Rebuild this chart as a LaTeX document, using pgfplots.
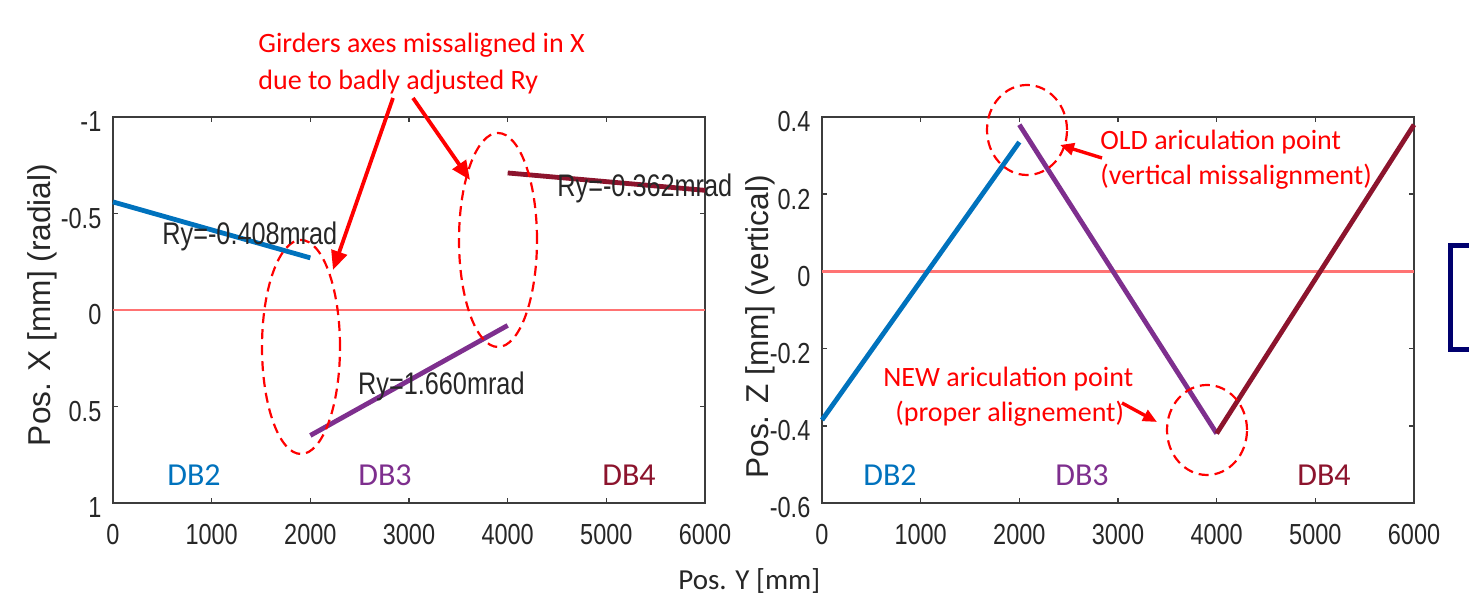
\documentclass[border=0pt]{standalone}
\usepackage{fontspec}
\setmainfont{Liberation Sans}[FakeStretch=0.81]
\newfontfamily\calfont{Carlito}
\newfontfamily\arialfont{Liberation Sans}
\usepackage{pgfplots}
\pgfplotsset{compat=1.18}
\usetikzlibrary{arrows.meta}

\definecolor{dbblue}{RGB}{0,114,189}
\definecolor{dbpurple}{RGB}{126,47,142}
\definecolor{dbred}{RGB}{140,20,45}
\definecolor{axgray}{RGB}{60,60,60}
\definecolor{navybox}{RGB}{0,0,110}

\pgfplotsset{
  girder/.style={
    scale only axis,
    width=296pt, height=193pt,
    anchor=south west,
    xmin=0, xmax=6000,
    xtick={0,1000,2000,3000,4000,5000,6000},
    xticklabels={0,1000,2000,3000,4000,5000,6000},
    scaled ticks=false,
    tick align=inside,
    major tick length=2.5pt,
    axis line style={axgray, line width=1pt},
    every tick/.style={axgray, line width=0.8pt},
    tick label style={font=\fontsize{14.5}{16}\selectfont, text=black!85},
    xticklabel style={yshift=-7pt},
    yticklabel style={xshift=-2.3pt, yshift=-2.5pt},
    ylabel style={font=\arialfont\fontsize{15.8}{18}\selectfont, text=black!85, anchor=base},
    clip=false,
  },
  seg/.style={line width=2.4pt},
}

\begin{document}
\begin{tikzpicture}
\path[use as bounding box, clip] (0,0) rectangle (734.5pt,301.5pt);

% left: radial position
\begin{axis}[girder,
  at={(56.5pt,50pt)},
  ymin=-1, ymax=1, y dir=reverse,
  ytick={-1,-0.5,0,0.5,1},
  yticklabels={-1,-0.5,0,0.5,1},
  ylabel={Pos. X [mm] (radial)},
  ylabel style={at={(axis description cs:-0.106,0.513)}},
]
\addplot[red!55, line width=1.3pt] coordinates {(0,0) (6000,0)};
\addplot[dbblue, seg] coordinates {(0,-0.56) (2000,-0.27)};
\addplot[dbpurple, seg] coordinates {(2000,0.65) (4000,0.08)};
\addplot[dbred, seg] coordinates {(4000,-0.71) (6000,-0.62)};
\end{axis}

% right: vertical position
\begin{axis}[girder,
  at={(411pt,50pt)},
  ymin=-0.6, ymax=0.4,
  ytick={-0.6,-0.4,-0.2,0,0.2,0.4},
  yticklabels={-0.6,-0.4,-0.2,0,0.2,0.4},
  ylabel={Pos. Z [mm] (vertical)},
  ylabel style={at={(axis description cs:-0.091,0.456)}},
]
\addplot[red!55, line width=1.3pt] coordinates {(0,0) (6000,0)};
\addplot[dbblue, seg] coordinates {(0,-0.385) (2000,0.335)};
\addplot[dbpurple, seg] coordinates {(2000,0.38) (4000,-0.42)};
\addplot[dbred, seg] coordinates {(4000,-0.42) (6000,0.38)};
\end{axis}

% annotations, in pixel units of the reference
\begin{scope}[x=0.5pt, y=-0.5pt, yshift=301.5pt]
  \tikzset{note/.style={text=red, inner sep=0, font=\calfont\fontsize{14}{16}\selectfont},
           ry/.style={text=black!85, inner sep=0, font=\fontsize{15.6}{17}\selectfont},
           db/.style={inner sep=0, anchor=base west, font=\calfont\fontsize{16}{18}\selectfont},
           ring/.style={red, line width=1.1pt, dash pattern=on 5pt off 3pt},
           pointer/.style={red, line width=1.9pt, -{Triangle[length=9.5pt,width=8pt]}}}

  \node[note, anchor=base west] at (258,53) {Girders axes missaligned in X};
  \node[note, anchor=base west] at (258,90) {due to badly adjusted Ry};
  \draw[pointer] (393,98) -- (333,270);
  \draw[pointer] (413,98) -- (470,180);
  \draw[ring] (301,347) ellipse [x radius=19.5pt, y radius=53.5pt];
  \draw[ring] (498,240) ellipse [x radius=19.5pt, y radius=53.5pt];

  \node[ry, anchor=base west] at (162,245) {Ry=-0.408mrad};
  \node[ry, anchor=base west] at (557,197) {Ry=-0.362mrad};
  \node[ry, anchor=base east] at (525,395) {Ry=1.660mrad};

  \node[db, text=dbblue] at (167,486) {DB2};
  \node[db, text=dbpurple] at (358,486) {DB3};
  \node[db, text=dbred] at (602,486) {DB4};
  \node[db, text=dbblue] at (863,486) {DB2};
  \node[db, text=dbpurple] at (1055,486) {DB3};
  \node[db, text=dbred] at (1297,486) {DB4};

  \draw[ring] (1027,130) ellipse [x radius=20pt, y radius=22.5pt];
  \draw[ring] (1207,430) ellipse [x radius=20pt, y radius=22.5pt];
  \node[note, anchor=base west] at (1100,150) {OLD ariculation point};
  \node[note, anchor=base west] at (1100,185) {(vertical missalignment)};
  \draw[red, line width=1.7pt, -{Triangle[length=7pt,width=6pt]}] (1102,158) -- (1060,145);
  \node[note, anchor=base west] at (883,387) {NEW ariculation point};
  \node[note, anchor=base west] at (895,422) {(proper alignement)};
  \draw[red, line width=1.7pt, -{Triangle[length=7pt,width=6pt]}] (1122,403) -- (1157,422);

  \node[inner sep=0, anchor=base west, text=black!85,
        font=\calfont\fontsize{14.5}{16}\selectfont] at (678,590) {Pos. Y [mm]};

  \draw[navybox, line width=2.5pt] (1450.5,245.5) rectangle (1500,349.5);
\end{scope}
\end{tikzpicture}
\end{document}
